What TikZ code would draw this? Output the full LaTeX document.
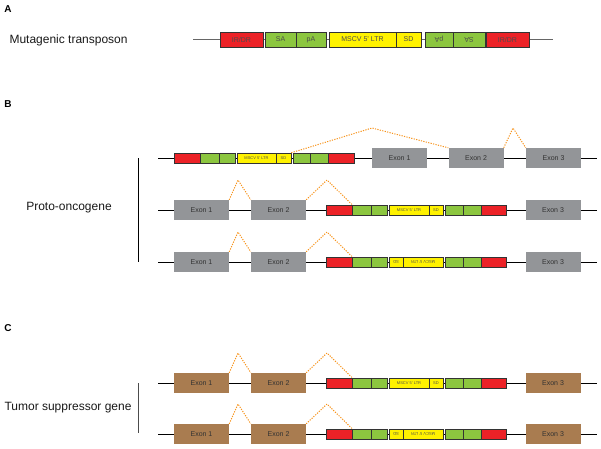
\documentclass[tikz,border=0pt]{standalone}
\usepackage{fontspec}
\setmainfont{Liberation Sans}
\definecolor{irred}{HTML}{EC2227}
\definecolor{sagreen}{HTML}{8CC63F}
\definecolor{ltryellow}{HTML}{FFF200}
\definecolor{exgray}{HTML}{939598}
\definecolor{exbrown}{HTML}{A97C50}
\definecolor{splorange}{HTML}{F7941D}
\usetikzlibrary{calc}

\begin{document}
\begin{tikzpicture}[x=1pt,y=-1pt,
	tbox/.style={draw=black!80, line width=0.5pt, inner sep=0pt, text=black!70},
	exon/.style={inner sep=0pt, minimum width=55pt, minimum height=20pt, font=\fontsize{7}{8}\selectfont, text=black!80},
	splice/.style={draw=splorange, line width=1pt, dash pattern=on 1.2pt off 1.3pt},
	gene/.style={draw=black, line width=0.8pt},
	panel/.style={font=\bfseries\fontsize{10}{12}\selectfont},
	label/.style={font=\fontsize{12}{14}\selectfont, text=black!90}]
	\useasboundingbox (0,0) rectangle (601,448);
	% panel letters
	\node[panel] (pa) at (8,9) {A};
	\node[panel] (pb) at (8,104) {B};
	\node[panel] (pc) at (8,328) {C};
	% A: the transposon
	\node[label, anchor=west] (lbl-a) at (6,40) {Mutagenic transposon};
	\coordinate (a-s) at (193,39.5);
	\coordinate (a-e) at (553,39.5);
	\draw[black!60, line width=0.8pt] (a-s) -- (a-e);
	\foreach \c/\xa/\xb/\r/\t [count=\i] in {irred/220/263/0/{IR/DR}, sagreen/265/296/0/SA, sagreen/296/326/0/pA, ltryellow/329/396/0/{MSCV 5' LTR}, ltryellow/396/421/0/SD, sagreen/425/453/180/pA, sagreen/453/485/180/SA, irred/486/529/0/{IR/DR}}
	\node[tbox, fill=\c, rotate=\r, minimum width={\xb-\xa}, minimum height=15, font=\fontsize{7}{8}\selectfont] (a-\i) at ({(\xa+\xb)/2},39.5) {\t};
	% B: first row, transposon upstream
	\coordinate (b1-s) at (158,158);
	\coordinate (b1-e) at (597,158);
	\draw[gene] (b1-s) -- (b1-e);
	\foreach \c/\xa/\xb/\t [count=\i] in {irred/174/200/{}, sagreen/200/219/{}, sagreen/219/235/{}, ltryellow/237/276/{MSCV 5' LTR}, ltryellow/276/291/SD, sagreen/293/310/{}, sagreen/310/328/{}, irred/328/354/{}}
	\node[tbox, fill=\c, minimum width={\xb-\xa}, minimum height=10, font=\fontsize{4}{4}\selectfont] (b1-\i) at ({(\xa+\xb)/2},158) {\t};
	\foreach \cx [count=\j] in {399.5,476,553.5}
	\node[exon, fill=exgray] (b1-e\j) at (\cx,158) {Exon \j};
	\coordinate (b1-p1) at (372,128);
	\coordinate (b1-p2) at (513,128);
	\draw[splice] (b1-5.north east) -- (b1-p1) -- (b1-e2.north west);
	\draw[splice] (b1-e2.north east) -- (b1-p2) -- (b1-e3.north west);
	% B and C: transposon between exon 2 and exon 3
	\foreach \row/\y/\fc/\f in {b2/210/exgray/1, b3/262/exgray/-1, c1/383/exbrown/1, c2/434/exbrown/-1}{
		\coordinate (\row-s) at (158,\y);
		\coordinate (\row-e) at (597,\y);
		\draw[gene] (\row-s) -- (\row-e);
		\foreach \c/\xa/\xb [count=\i] in {irred/326/352, sagreen/352/371, sagreen/371/387, sagreen/445/463, sagreen/463/481, irred/481/506}
		\node[tbox, fill=\c, minimum width={\xb-\xa}, minimum height=10] (\row-\i) at ({(\xa+\xb)/2},\y) {};
		\node[tbox, fill=ltryellow, minimum width=40, minimum height=10, rotate={90*(1-\f)}, font=\fontsize{4}{4}\selectfont] (\row-ltr) at ({416+\f*(409-416)},\y) {MSCV 5' LTR};
		\node[tbox, fill=ltryellow, minimum width=14, minimum height=10, rotate={90*(1-\f)}, font=\fontsize{4}{4}\selectfont] (\row-sd) at ({416+\f*(436-416)},\y) {SD};
		\foreach \cx [count=\j] in {201.5,278.5,553}
		\node[exon, fill=\fc] (\row-e\j) at (\cx,\y) {Exon \j};
		\coordinate (\row-p1) at (238,{\y-30});
		\coordinate (\row-p2) at (327,{\y-30});
		\draw[splice] (\row-e1.north east) -- (\row-p1) -- (\row-e2.north west);
		\draw[splice] (\row-e2.north east) -- (\row-p2) -- (\row-1.north east);
	}
	% brackets and gene labels
	\coordinate (b-top) at (138,158);
	\coordinate (b-bot) at (138,262);
	\draw[gene] (b-top) -- (b-bot);
	\node[label] (lbl-b) at (69,208) {Proto-oncogene};
	\coordinate (c-top) at (138,383);
	\coordinate (c-bot) at (138,433);
	\draw[black!70, line width=0.8pt] (c-top) -- (c-bot);
	\node[label] (lbl-c) at (68,408) {Tumor suppressor gene};
\end{tikzpicture}
\end{document}
